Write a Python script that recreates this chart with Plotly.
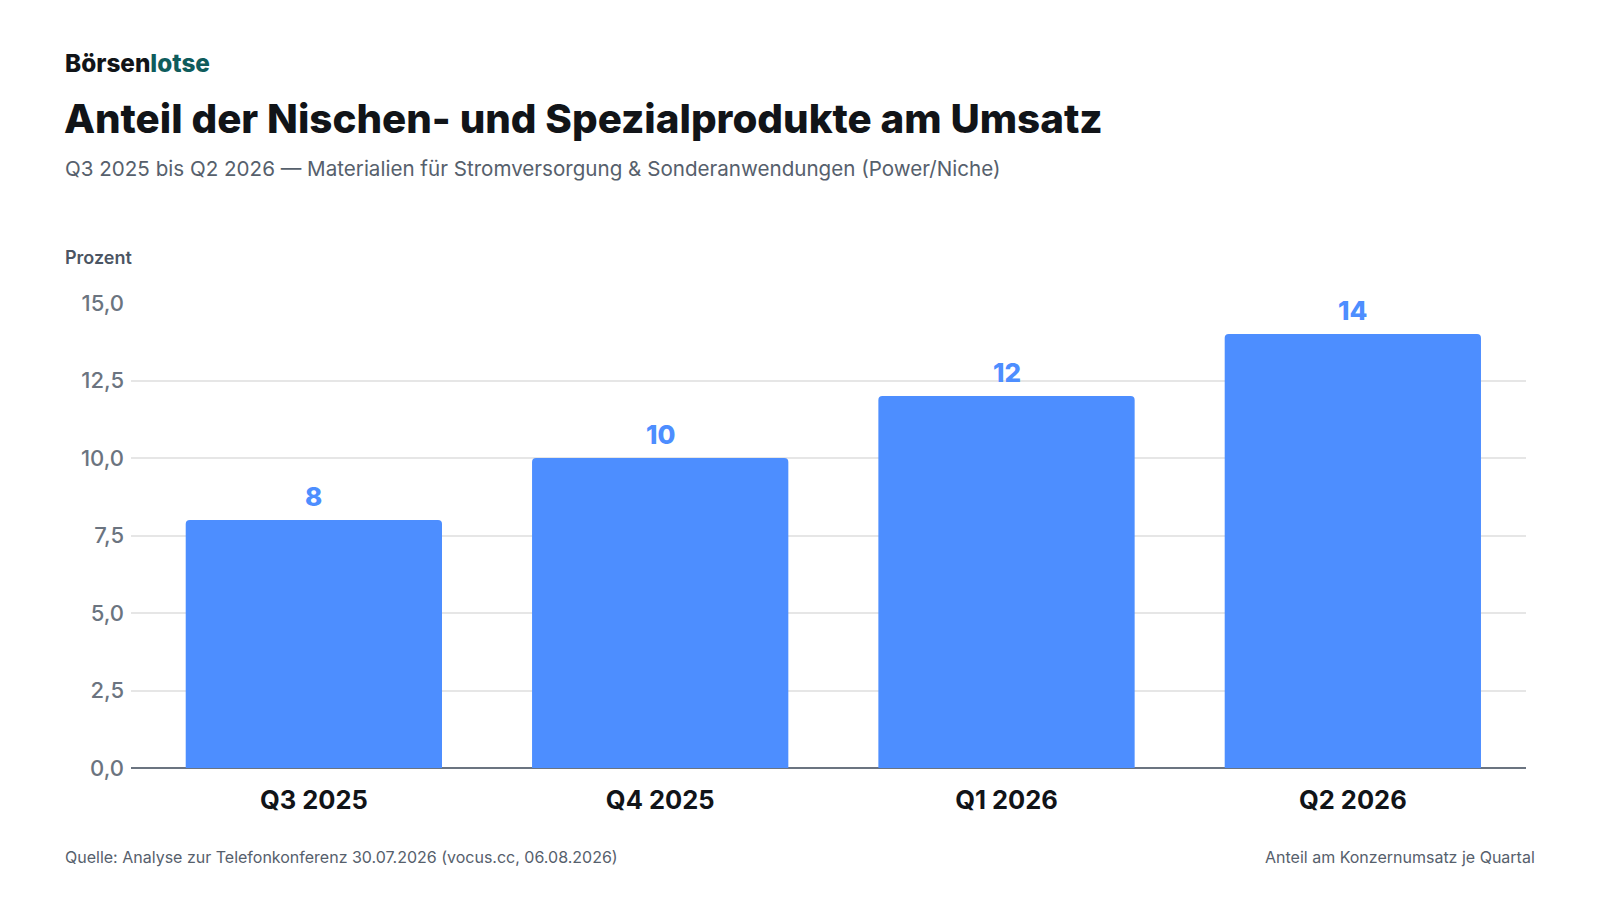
import plotly.graph_objects as go

quarters = ["Q3 2025", "Q4 2025", "Q1 2026", "Q2 2026"]
share_pct = [8, 10, 12, 14]
y_ticks = [0, 2.5, 5, 7.5, 10, 12.5, 15]

BLUE = "#4D8EFF"
FONT = "Inter"

# plot area in pixels (1600x900 page)
L, R, T, B = 131, 74, 303, 132
PLOT_W = 1600 - L - R
PLOT_H = 900 - T - B


def px_x(px):
    return (px - L) / PLOT_W


def px_y(py):
    return (900 - B - py) / PLOT_H


fig = go.Figure()
fig.add_trace(
    go.Bar(
        x=quarters,
        y=share_pct,
        width=0.74,
        marker=dict(color=BLUE, line=dict(width=0)),
        hoverinfo="skip",
    )
)

# value labels above the bars
for q, v in zip(quarters, share_pct):
    fig.add_annotation(
        x=q, y=v, xref="x", yref="y",
        text=str(v), showarrow=False,
        yanchor="middle", yshift=24,
        font=dict(family=FONT, size=26, color=BLUE, weight=800),
    )

fig.update_layout(
    width=1600,
    height=900,
    margin=dict(l=L, r=R, t=T, b=B),
    paper_bgcolor="#FFFFFF",
    plot_bgcolor="#FFFFFF",
    barcornerradius=4,
    separators=",.",
    showlegend=False,
    font=dict(family=FONT),
)

fig.update_xaxes(
    range=[-0.528, 3.5],
    showgrid=False,
    showline=False,
    ticks="",
    tickfont=dict(family=FONT, size=25.5, color="#111418", weight=700),
    ticklabelstandoff=14,
)
fig.update_yaxes(
    range=[0, 15],
    tickvals=y_ticks,
    tickformat=".1f",
    showgrid=True,
    gridcolor="#E6E6E6",
    gridwidth=1.5,
    zeroline=True,
    zerolinecolor="#6B7480",
    zerolinewidth=2,
    showline=False,
    ticks="",
    tickfont=dict(family=FONT, size=22, color="#6B7480", weight=500),
    ticklabelstandoff=6,
)

annotations = [
    dict(
        text="<span style='color:#111418'>Börsen</span><span style='color:#0F5C5C'>lotse</span>",
        x=px_x(62.5), y=px_y(63), xanchor="left", yanchor="middle",
        font=dict(family=FONT, size=24.3, weight=800),
    ),
    dict(
        text="Anteil der Nischen- und Spezialprodukte am Umsatz",
        x=px_x(62), y=px_y(118.5), xanchor="left", yanchor="middle",
        font=dict(family=FONT, size=40.3, color="#111418", weight=800),
    ),
    dict(
        text="Q3 2025 bis Q2 2026 — Materialien für Stromversorgung & Sonderanwendungen (Power/Niche)",
        x=px_x(62.5), y=px_y(168.5), xanchor="left", yanchor="middle",
        font=dict(family=FONT, size=20.6, color="#56606C"),
    ),
    dict(
        text="Prozent",
        x=px_x(62.5), y=px_y(257), xanchor="left", yanchor="middle",
        font=dict(family=FONT, size=18, color="#4B5563", weight=600),
    ),
    dict(
        text="Quelle: Analyse zur Telefonkonferenz 30.07.2026 (vocus.cc, 06.08.2026)",
        x=px_x(62.5), y=px_y(857), xanchor="left", yanchor="middle",
        font=dict(family=FONT, size=16, color="#56606C"),
    ),
    dict(
        text="Anteil am Konzernumsatz je Quartal",
        x=px_x(1537), y=px_y(857), xanchor="right", yanchor="middle",
        font=dict(family=FONT, size=16, color="#56606C"),
    ),
]
for a in annotations:
    fig.add_annotation(xref="paper", yref="paper", showarrow=False, **a)

# drop the default page margin so the 1600x900 figure sits flush in the window
fig.write_html(
    "out.html",
    config={"displayModeBar": False},
    post_script="document.body.style.margin='0';document.body.style.overflow='hidden';",
)
